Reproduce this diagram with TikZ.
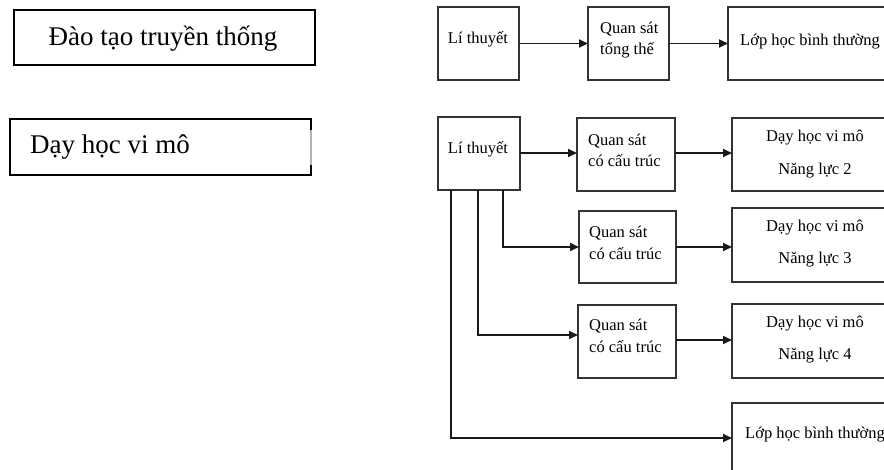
\documentclass[tikz,border=0pt]{standalone}
\usepackage{fontspec}
\setmainfont{Liberation Serif}
\usetikzlibrary{arrows.meta}
\begin{document}
\begin{tikzpicture}[x=1pt,y=-1pt,
  bigbox/.style={draw=black,line width=2pt,anchor=north west,inner sep=0pt,outer sep=0pt},
  smallbox/.style={draw=black!80,line width=1.4pt,anchor=north west,inner sep=0pt,outer sep=0pt},
  bigtxt/.style={inner sep=0pt,font=\fontsize{27}{30}\selectfont},
  txt/.style={inner sep=0pt,font=\fontsize{16.5}{19}\selectfont},
  conn/.style={line width=1.8pt,draw=black!90,-{Triangle[length=9pt,width=8pt]}},
  wire/.style={line width=1.8pt,draw=black!90}]
\useasboundingbox (0,0) rectangle (884,469);
\clip (0,0) rectangle (884,469);
% left column
\node[bigbox,minimum width=301pt,minimum height=55pt] (trad) at (14,10) {};
\node[bigtxt,anchor=base] (tradt) at (163,45) {Đào tạo truyền thống};
\node[bigbox,minimum width=301pt,minimum height=56pt] (micro) at (10,119) {};
\draw[line width=2.2pt,draw=black!30] (311,130) -- (311,165);
\node[bigtxt,anchor=base west] (microt) at (30,153) {Dạy học vi mô};
% top row
\node[smallbox,minimum width=81pt,minimum height=73pt] (lt1) at (438,7) {};
\node[txt,anchor=base] (lt1t) at (478,43) {Lí thuyết};
\node[smallbox,minimum width=81pt,minimum height=73pt] (qs0) at (588,7) {};
\node[txt,anchor=base west] (qs0a) at (600,33) {Quan sát};
\node[txt,anchor=base west] (qs0b) at (600,54) {tổng thể};
\node[smallbox,minimum width=172pt,minimum height=73pt] (lb0) at (728,7) {};
\node[txt,anchor=base west] (lb0t) at (740,45) {Lớp học bình thường};
\draw[conn] (lt1.east) -- (qs0.west);
\draw[conn] (qs0.east) -- (lb0.west);
% micro teaching diagram
\node[smallbox,minimum width=82pt,minimum height=73pt] (lt2) at (438,117) {};
\node[txt,anchor=base] (lt2t) at (478,153) {Lí thuyết};
\node[smallbox,minimum width=98pt,minimum height=73pt] (qs1) at (577,118) {};
\node[txt,anchor=base west] (qs1a) at (588,145) {Quan sát};
\node[txt,anchor=base west] (qs1b) at (588,166) {có cấu trúc};
\node[smallbox,minimum width=168pt,minimum height=73pt] (dh1) at (732,118) {};
\node[txt,anchor=base] (dh1a) at (815,141) {Dạy học vi mô};
\node[txt,anchor=base] (dh1b) at (815,174) {Năng lực 2};
\node[smallbox,minimum width=97pt,minimum height=72pt] (qs2) at (579,211) {};
\node[txt,anchor=base west] (qs2a) at (589,237) {Quan sát};
\node[txt,anchor=base west] (qs2b) at (589,259) {có cấu trúc};
\node[smallbox,minimum width=168pt,minimum height=74pt] (dh2) at (732,208) {};
\node[txt,anchor=base] (dh2a) at (815,231) {Dạy học vi mô};
\node[txt,anchor=base] (dh2b) at (815,263) {Năng lực 3};
\node[smallbox,minimum width=98pt,minimum height=73pt] (qs3) at (578,305) {};
\node[txt,anchor=base west] (qs3a) at (589,330) {Quan sát};
\node[txt,anchor=base west] (qs3b) at (589,352) {có cấu trúc};
\node[smallbox,minimum width=168pt,minimum height=74pt] (dh3) at (732,304) {};
\node[txt,anchor=base] (dh3a) at (815,327) {Dạy học vi mô};
\node[txt,anchor=base] (dh3b) at (815,359) {Năng lực 4};
\node[smallbox,minimum width=168pt,minimum height=80pt] (lb1) at (732,403) {};
\node[txt,anchor=base west] (lb1t) at (745,438) {Lớp học bình thường};
\coordinate (c1) at (620,153);
\coordinate (c2) at (503,247);
\coordinate (c3) at (478,335);
\coordinate (c4) at (451,438);
\coordinate (c5) at (620,340);
\draw[conn] (lt2.east |- c1) -- (c1 -| qs1.west);
\draw[conn] (qs1.east |- c1) -- (c1 -| dh1.west);
\draw[conn] (lt2.south -| c2) -- (c2) -- (c2 -| qs2.west);
\draw[conn] (qs2.east |- c2) -- (c2 -| dh2.west);
\draw[conn] (lt2.south -| c3) -- (c3) -- (c3 -| qs3.west);
\draw[conn] (qs3.east |- c5) -- (c5 -| dh3.west);
\draw[conn] (lt2.south -| c4) -- (c4) -- (c4 -| lb1.west);
\end{tikzpicture}
\end{document}
